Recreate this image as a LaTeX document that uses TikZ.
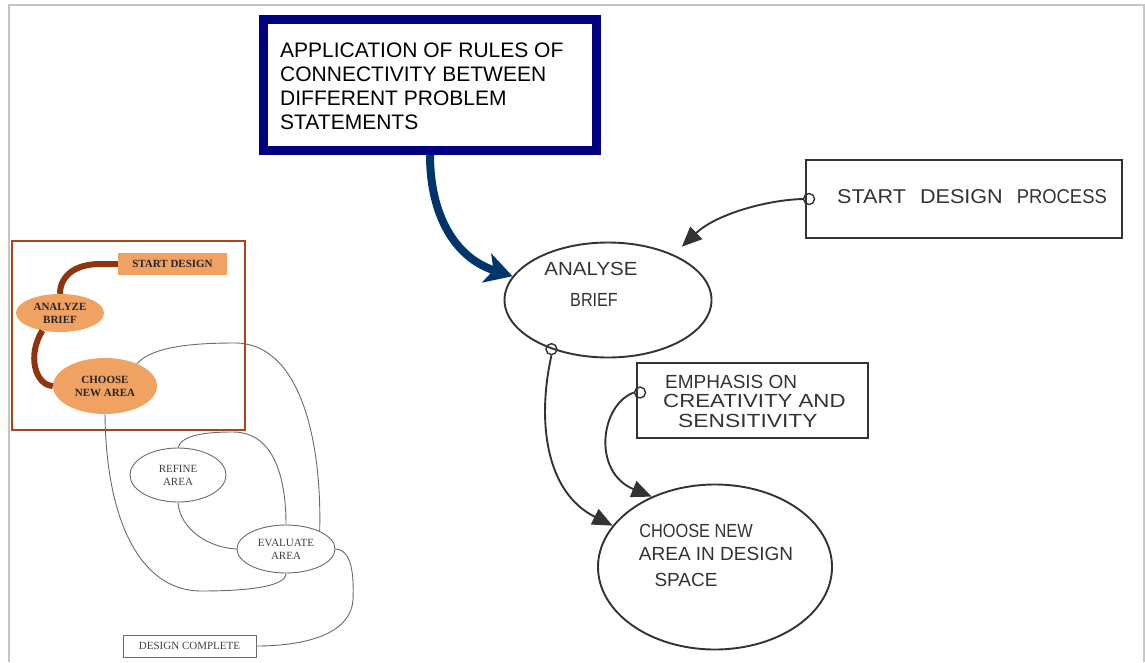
\documentclass[tikz,border=0pt]{standalone}
\usepackage{fontspec}
\setmainfont{Liberation Serif}
\setsansfont{Liberation Sans}
\usetikzlibrary{shapes.geometric,arrows.meta}

\definecolor{framegray}{HTML}{C6C6C6}
\definecolor{navybox}{HTML}{000080}
\definecolor{bluearrow}{HTML}{00356B}
\definecolor{rustframe}{HTML}{A5471C}
\definecolor{rustline}{HTML}{8E3510}
\definecolor{peach}{HTML}{EFA262}
\definecolor{pencil}{HTML}{333333}
\definecolor{thinline}{HTML}{6A6A6A}

% horizontally stretched or squeezed lettering
\newcommand{\wide}[2]{\scalebox{#1}[1]{#2}}

\tikzset{
  % hand-sketched flow on the right
  sketch/.style={draw=pencil, line width=1.9},
  sketchtext/.style={font=\sffamily\fontsize{19}{21}\selectfont, text=pencil, inner sep=0},
  sketchflow/.style={pencil, line width=1.9, -{Triangle[length=20,width=17]}},
  joint/.style={circle, draw=pencil, line width=1.4, minimum size=11, inner sep=0},
  % small printed flow chart on the left
  peachnode/.style={fill=peach, draw=none, inner sep=0,
    font=\rmfamily\bfseries\fontsize{11}{13}\selectfont, text=black!85, align=center},
  plainnode/.style={draw=thinline, line width=0.9, inner sep=0,
    font=\rmfamily\fontsize{11}{13}\selectfont, text=black!75, align=center},
  rustflow/.style={rustline, line width=6},
  thinflow/.style={thinline, line width=0.9},
}

\begin{document}
\begin{tikzpicture}[x=1pt,y=-1pt]
\useasboundingbox (0,0) rectangle (1145,662);

% page frame
\draw[framegray, line width=2] (9,662) -- (9,5) -- (1144,5) -- (1144,662);

% ---------- note box and its arrow ----------
\node[draw=navybox, line width=9, minimum width=333, minimum height=131, inner sep=0] (rules) at (430,85) {};
\node[anchor=west, align=left, inner sep=0, font=\sffamily\fontsize{21}{24}\selectfont] (rulestext) at (280,86)
  {APPLICATION OF RULES OF\\CONNECTIVITY BETWEEN\\DIFFERENT PROBLEM\\STATEMENTS};

% ---------- sketched design process ----------
\node[sketch, minimum width=316, minimum height=78, inner sep=0] (start) at (964,199) {};
\node[sketchtext, font=\sffamily\fontsize{20}{22}\selectfont] (starttext) at (972,197)
  {\wide{1.08}{START}\hspace{14pt}\wide{1.08}{DESIGN}\hspace{14pt}\wide{0.92}{PROCESS}};

\node[sketch, ellipse, minimum width=207, minimum height=115, inner sep=0] (ab) at (608,300) {};
\node[sketchtext] (abtext1) at (591,269) {\wide{1.08}{ANALYSE}};
\node[sketchtext] (abtext2) at (594,300) {\wide{0.85}{BRIEF}};

\node[sketch, minimum width=231, minimum height=75, inner sep=0] (emph) at (752.5,400.5) {};
\node[sketchtext, anchor=west] (emtext1) at (665,382) {EMPHASIS ON};
\node[sketchtext, anchor=west] (emtext2) at (663,401) {\wide{1.17}{CREATIVITY AND}};
\node[sketchtext, anchor=west] (emtext3) at (678,421) {\wide{1.2}{SENSITIVITY}};

\node[sketch, ellipse, minimum width=234, minimum height=165, inner sep=0] (cn) at (715,567) {};
\node[sketchtext] (cntext1) at (696,531) {\wide{0.86}{CHOOSE NEW}};
\node[sketchtext] (cntext2) at (716,554) {AREA IN DESIGN};
\node[sketchtext] (cntext3) at (686,580) {SPACE};

\node[joint] (p1) at ([xshift=4]start.west) {};
\node[joint] (p2) at (ab.221) {};
\node[joint] (p3) at ([xshift=4,yshift=8]emph.west) {};

\draw[sketchflow] (p1.west) .. controls (765,200) and (715,215) .. ([yshift=12]ab.north east);
\draw[sketchflow] (p2.south) .. controls (537,420) and (545,492) .. (cn.158);
\draw[sketchflow] (p3.west) .. controls (600,405) and (592,472) .. (cn.132);

\draw[bluearrow, line width=8, -{Stealth[length=27,width=30,inset=7]}]
  (rules.south) .. controls (430,215) and (455,258) .. (ab.166);

% ---------- printed flow chart ----------
\node[draw=rustframe, line width=2, minimum width=233, minimum height=189, inner sep=0] (frame) at (128.5,335.5) {};

\node[peachnode, minimum width=109, minimum height=22] (sd) at (172.5,264) {START DESIGN};
\node[peachnode, ellipse, minimum width=88, minimum height=38] (an) at (60,313) {ANALYZE\\BRIEF};
\node[peachnode, ellipse, minimum width=104, minimum height=56] (cna) at (105,386) {CHOOSE\\NEW AREA};

\node[plainnode, ellipse, minimum width=96, minimum height=54] (rf) at (178,475) {REFINE\\AREA};
\node[plainnode, ellipse, minimum width=98, minimum height=48] (ev) at (286,549) {EVALUATE\\AREA};
\node[plainnode, minimum width=133, minimum height=22] (dc) at (189.5,646) {DESIGN COMPLETE};

\draw[rustflow] (sd.west) -- (100,264) .. controls (75,264) and (60,276) .. (an.north);
\draw[rustflow] (an.225) .. controls (27,355) and (35,385) .. (cna.west);

\draw[thinflow] (cna.35) .. controls (152,347) and (190,343) .. (235,343)
  .. controls (300,343) and (322,440) .. (ev.28);
\draw[thinflow] (cna.south) .. controls (106,520) and (140,590) .. (200,591)
  .. controls (240,591) and (286,588) .. (ev.south);
\draw[thinflow] (rf.north) .. controls (182,435) and (205,432) .. (233,432)
  .. controls (275,432) and (286,480) .. (ev.north);
\draw[thinflow] (rf.south) .. controls (180,530) and (210,548) .. (ev.west);
\draw[thinflow] (ev.east) .. controls (352,550) and (354,575) .. (353,600)
  .. controls (350,640) and (290,646) .. (dc.east);
\end{tikzpicture}
\end{document}
